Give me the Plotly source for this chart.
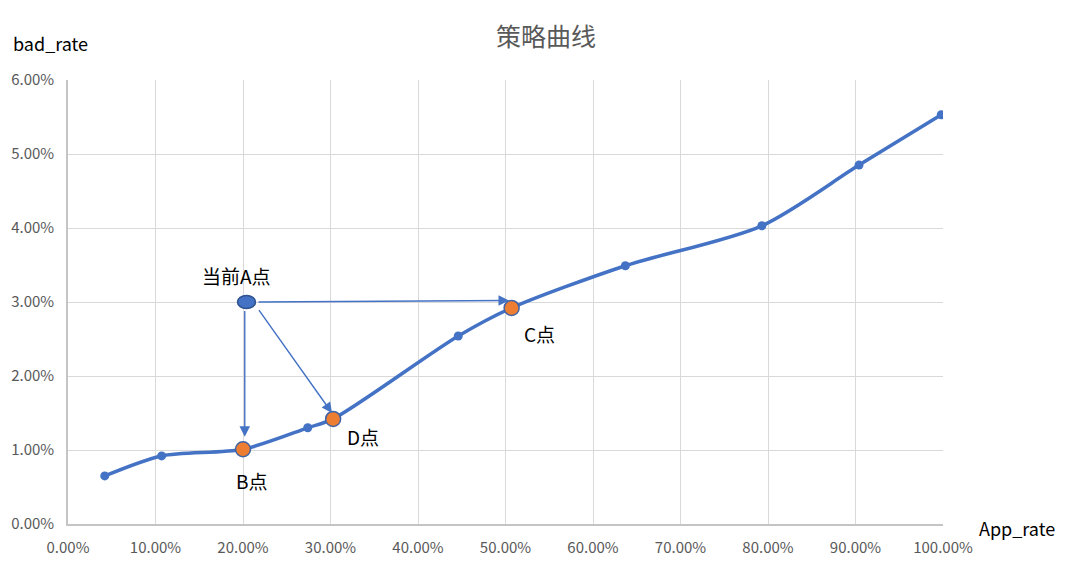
import plotly.graph_objects as go

# ---- data ----
curve_x = [0.042, 0.107, 0.200, 0.274, 0.303, 0.446, 0.507, 0.637, 0.793, 0.904, 0.998]
curve_y = [0.0065, 0.0092, 0.0101, 0.0130, 0.0142, 0.0254, 0.0292, 0.0349, 0.0403, 0.0485, 0.0553]
marker_x = [0.042, 0.107, 0.274, 0.446, 0.637, 0.793, 0.904, 0.998]
marker_y = [0.0065, 0.0092, 0.0130, 0.0254, 0.0349, 0.0403, 0.0485, 0.0553]

point_names = ["B点", "D点", "C点"]
point_x = [0.200, 0.303, 0.507]
point_y = [0.0101, 0.0142, 0.0292]

a_name = "当前A点"
a_x = 0.204
a_y = 0.0300

x_ticks = [i / 10 for i in range(11)]
y_ticks = [i / 100 for i in range(7)]

title = "策略曲线"
x_title = "App_rate"
y_title = "bad_rate"

BLUE = "#4472C4"
ORANGE = "#ED7D31"
GRID = "#D9D9D9"
AXIS = "#C4C4C4"
FONT = "Noto Sans CJK SC"

W, H = 1064, 548
ML, MR, MT, MB = 60, 129, 72, 32
PW, PH = W - ML - MR, H - MT - MB

fig = go.Figure()
fig.add_trace(go.Scatter(x=curve_x, y=curve_y, mode="lines",
                         line=dict(color=BLUE, width=3.5, shape="spline", smoothing=0.8),
                         hoverinfo="skip", showlegend=False))
fig.add_trace(go.Scatter(x=marker_x, y=marker_y, mode="markers",
                         marker=dict(color=BLUE, size=9), showlegend=False))
fig.add_trace(go.Scatter(x=point_x, y=point_y, mode="markers",
                         marker=dict(color=ORANGE, size=15, line=dict(color="#3F64A6", width=1.5)),
                         showlegend=False))

# A point as an ellipse
fig.add_shape(type="circle", xref="x", yref="y",
              xsizemode="pixel", ysizemode="pixel",
              xanchor=a_x, yanchor=a_y,
              x0=-9, x1=9, y0=-6.5, y1=6.5,
              fillcolor=BLUE, line=dict(color="#2F528F", width=1.5))

arrow_style = dict(showarrow=True, arrowhead=2, arrowsize=1.5, arrowwidth=1.4,
                   arrowcolor=BLUE, axref="x", ayref="y", text="", standoff=0, startstandoff=0)
# A -> B
fig.add_annotation(x=a_x - 0.002, y=point_y[0] + 0.0017, ax=a_x - 0.002, ay=a_y - 0.001,
                   **arrow_style)
# A -> D
fig.add_annotation(x=point_x[1] - 0.0013, y=point_y[1] + 0.0008, ax=a_x + 0.013, ay=a_y - 0.0009,
                   **arrow_style)
# A -> C
fig.add_annotation(x=point_x[2] - 0.003, y=a_y + 0.0002, ax=a_x + 0.012, ay=a_y,
                   **arrow_style)

lab_font = dict(family=FONT, size=19, color="#000000")
fig.add_annotation(x=a_x, y=a_y, text=a_name, showarrow=False, yshift=27, xshift=-10, font=lab_font)
fig.add_annotation(x=point_x[0], y=point_y[0], text=point_names[0], showarrow=False,
                   yshift=-31, xshift=8, font=lab_font)
fig.add_annotation(x=point_x[1], y=point_y[1], text=point_names[1], showarrow=False,
                   yshift=-18, xshift=30, font=lab_font)
fig.add_annotation(x=point_x[2], y=point_y[2], text=point_names[2], showarrow=False,
                   yshift=-26, xshift=28, font=lab_font)

ax_font = dict(family=FONT, size=18, color="#000000")
fig.add_annotation(xref="paper", yref="paper", x=(42 - ML) / PW, y=(H - 35 - MB) / PH,
                   text=y_title, showarrow=False, xanchor="center", yanchor="middle", font=ax_font)
fig.add_annotation(xref="paper", yref="paper", x=(1009 - ML) / PW, y=(H - 520 - MB) / PH,
                   text=x_title, showarrow=False, xanchor="center", yanchor="middle", font=ax_font)

fig.update_layout(
    width=W, height=H,
    margin=dict(l=ML, r=MR, t=MT, b=MB, autoexpand=False),
    paper_bgcolor="white", plot_bgcolor="white",
    font=dict(family=FONT, color="#595959", size=15),
    title=dict(text=title, x=538 / W, xref="container", xanchor="center",
               y=1 - 29 / H, yref="container", yanchor="middle",
               font=dict(family=FONT, size=25, color="#595959")),
    xaxis=dict(range=[0, 1], tickvals=x_ticks, tickformat=".2%", showgrid=True,
               gridcolor=GRID, gridwidth=1.3, showline=True, linecolor=AXIS, linewidth=1.6,
               zeroline=False, ticks="", ticklabelstandoff=9, automargin=False,
               tickfont=dict(size=15, color="#595959")),
    yaxis=dict(range=[0, 0.06], tickvals=y_ticks, tickformat=".2%", showgrid=True,
               gridcolor=GRID, gridwidth=1.3, showline=True, linecolor=AXIS, linewidth=1.6,
               zeroline=False, ticks="", ticklabelstandoff=9, automargin=False,
               tickfont=dict(size=15, color="#595959")),
)

fig.write_html("out.html")
